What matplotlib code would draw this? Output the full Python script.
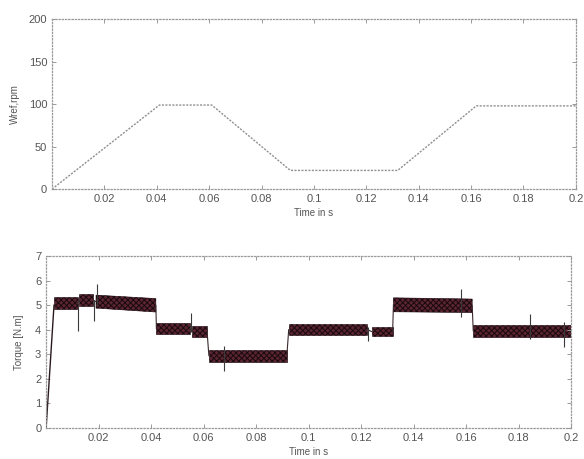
import matplotlib
matplotlib.use("Agg")
import matplotlib.pyplot as plt

# ---------------- data ----------------
# Speed reference (rpm)
speed_t = [0.0, 0.041, 0.061, 0.091, 0.132, 0.162, 0.2]
speed_v = [0.0, 99.0, 99.0, 22.0, 22.0, 98.0, 98.0]

# Torque band segments (start/end time, lower/upper envelope at start and end)
seg_t0  = [0.0030, 0.0127, 0.0190, 0.0420, 0.0556, 0.0620, 0.0924, 0.1240, 0.1323, 0.1627]
seg_t1  = [0.0120, 0.0180, 0.0418, 0.0547, 0.0613, 0.0917, 0.1224, 0.1320, 0.1623, 0.2000]
seg_lo0 = [4.86, 4.96, 4.88, 3.81, 3.69, 2.70, 3.78, 3.75, 4.73, 3.72]
seg_hi0 = [5.32, 5.44, 5.41, 4.28, 4.16, 3.18, 4.22, 4.10, 5.30, 4.20]
seg_lo1 = [4.86, 4.96, 4.72, 3.81, 3.69, 2.70, 3.78, 3.75, 4.70, 3.72]
seg_hi1 = [5.32, 5.44, 5.27, 4.28, 4.16, 3.18, 4.22, 4.10, 5.25, 4.20]

# Initial rise of torque
rise_t = [0.0, 0.0030]
rise_v = [0.0, 5.0]

# Transient spikes (time, min, max)
spike_t  = [0.0121, 0.0182, 0.0192, 0.0550, 0.0677, 0.1228, 0.1580, 0.1843, 0.1972]
spike_lo = [3.94, 4.34, 5.00, 3.90, 2.30, 3.53, 4.50, 3.64, 3.30]
spike_hi = [5.00, 5.20, 5.88, 4.70, 3.33, 4.10, 5.66, 4.64, 4.30]

xticks = [0.02, 0.04, 0.06, 0.08, 0.1, 0.12, 0.14, 0.16, 0.18, 0.2]
xticklabels = ["0.02", "0.04", "0.06", "0.08", "0.1", "0.12", "0.14", "0.16", "0.18", "0.2"]
speed_yticks = [0, 50, 100, 150, 200]
torque_yticks = [0, 1, 2, 3, 4, 5, 6, 7]

# ---------------- style ----------------
plt.rcParams['font.family'] = ['Liberation Sans', 'DejaVu Sans']
plt.rcParams['hatch.linewidth'] = 0.7
plt.rcParams['hatch.color'] = '#120609'

fig = plt.figure(figsize=(5.84, 4.59), dpi=100)
ax1 = fig.add_axes([0.089, 0.588, 0.897, 0.370])
ax2 = fig.add_axes([0.079, 0.068, 0.899, 0.374])

frame_col = '#9a9a9a'
text_col = '#555555'

def style(ax):
    for s in ax.spines.values():
        s.set_linestyle((0, (1, 1.6)))
        s.set_color(frame_col)
        s.set_linewidth(0.9)
    ax.tick_params(direction='in', length=3, width=0.7, colors=frame_col,
                   labelcolor=text_col, labelsize=8, top=True, right=True)
    ax.set_xlim(0, 0.2)
    ax.set_xticks(xticks)
    ax.set_xticklabels(xticklabels)

# Top: speed reference
style(ax1)
ax1.plot(speed_t, speed_v, color='#909090', lw=1.0, ls=(0, (1.5, 1)))
ax1.set_ylim(0, 200)
ax1.set_yticks(speed_yticks)
ax1.set_ylabel('Wref,rpm', fontsize=7, color=text_col, labelpad=6)
ax1.set_xlabel('Time in s', fontsize=7, color=text_col, labelpad=3)

# Bottom: torque
style(ax2)
ax2.plot(rise_t, rise_v, color='#2a1a1e', lw=1.0)
for i in range(len(seg_t0)):
    ax2.fill_between([seg_t0[i], seg_t1[i]], [seg_lo0[i], seg_lo1[i]],
                     [seg_hi0[i], seg_hi1[i]], facecolor='#5a2430',
                     edgecolor='#1a0a10', hatch='xxxxxx', linewidth=0.4)
    if i + 1 < len(seg_t0):
        ax2.plot([seg_t1[i], seg_t0[i + 1]],
                 [(seg_lo1[i] + seg_hi1[i]) / 2, (seg_lo0[i + 1] + seg_hi0[i + 1]) / 2],
                 color='#3a2a2e', lw=0.8)
ax2.vlines(spike_t, spike_lo, spike_hi, color='#3a3a3a', lw=0.8)
ax2.set_ylim(0, 7)
ax2.set_yticks(torque_yticks)
ax2.set_ylabel('Torque [N.m]', fontsize=7, color=text_col, labelpad=8)
ax2.set_xlabel('Time in s', fontsize=7, color=text_col, labelpad=3)

fig.savefig('out.png', dpi=100)
